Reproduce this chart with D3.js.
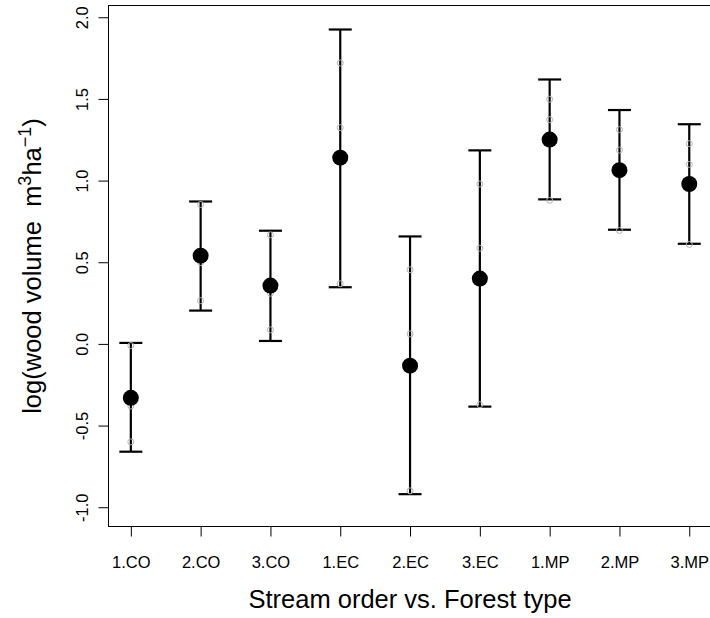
<!DOCTYPE html>
<html>
<head>
<meta charset="utf-8">
<script src="https://cdn.jsdelivr.net/npm/d3@7"></script>
<style>
  body { margin: 0; background: #fff; }
  svg { display: block; font-family: "Liberation Sans", Arial, sans-serif; }
</style>
</head>
<body>
<div id="chart"></div>
<script>
// group labels (stream order . forest type)
const categories = ["1.CO", "2.CO", "3.CO", "1.EC", "2.EC", "3.EC", "1.MP", "2.MP", "3.MP"];
// group means and error bar ends
const means = [-0.33, 0.54, 0.357, 1.14, -0.133, 0.40, 1.251, 1.064, 0.979];
const upper = [0.006, 0.872, 0.693, 1.925, 0.658, 1.185, 1.619, 1.432, 1.345];
const lower = [-0.66, 0.204, 0.018, 0.347, -0.92, -0.384, 0.885, 0.699, 0.613];
// the three raw observations per group (grey open circles)
const obsHigh = [-0.01, 0.854, 0.668, 1.72, 0.454, 0.979, 1.498, 1.312, 1.226];
const obsMid = [-0.38, 0.498, 0.31, 1.324, 0.061, 0.586, 1.373, 1.187, 1.099];
const obsLow = [-0.60, 0.265, 0.086, 0.368, -0.90, -0.372, 0.879, 0.695, 0.609];
const yTicks = [-1.0, -0.5, 0.0, 0.5, 1.0, 1.5, 2.0];

const width = 710, height = 618;
// plot region (right edge falls just outside the picture)
const plotL = 108.5, plotR = 711.6, plotT = 5.5, plotB = 526.5;

const svg = d3.select("#chart").append("svg")
    .attr("width", width)
    .attr("height", height);

const x = d3.scalePoint()
    .domain(categories)
    .range([plotL, plotR])
    .padding(0.32);

const y = d3.scaleLinear()
    .domain([-1.118, 2.072])
    .range([plotB, plotT]);

// box
svg.append("rect")
    .attr("x", plotL)
    .attr("y", plotT)
    .attr("width", plotR - plotL)
    .attr("height", plotB - plotT)
    .attr("fill", "none")
    .attr("stroke", "#000")
    .attr("stroke-width", 1);

// y axis, labels turned like R does
const yAxis = svg.append("g")
    .attr("transform", `translate(${plotL},0)`)
    .call(d3.axisLeft(y).tickValues(yTicks).tickSize(10));
yAxis.select(".domain").remove();
yAxis.selectAll("line").attr("stroke", "#000");
yAxis.selectAll("text")
    .attr("transform", "rotate(-90)")
    .attr("x", 0)
    .attr("y", -21)
    .attr("dy", null)
    .attr("text-anchor", "middle")
    .attr("font-size", 16.5)
    .attr("font-family", null)
    .attr("fill", "#000")
    .text(d => d3.format(".1f")(d).replace("\u2212", "-"));

// x axis
const xAxis = svg.append("g")
    .attr("transform", `translate(0,${plotB})`)
    .call(d3.axisBottom(x).tickSize(10));
xAxis.select(".domain").remove();
xAxis.selectAll("line").attr("stroke", "#000");
xAxis.selectAll("text")
    .attr("y", 41)
    .attr("dy", null)
    .attr("font-size", 16.5)
    .attr("font-family", null)
    .attr("fill", "#000");

// axis titles
svg.append("text")
    .attr("x", (plotL + plotR) / 2)
    .attr("y", 608)
    .attr("text-anchor", "middle")
    .attr("font-size", 25.5)
    .text("Stream order vs. Forest type");

const ylab = svg.append("text")
    .attr("transform", `translate(41,${(plotT + plotB) / 2}) rotate(-90)`)
    .attr("text-anchor", "middle")
    .attr("font-size", 25.5)
    .style("white-space", "pre");
ylab.append("tspan").text("log(wood volume  m");
ylab.append("tspan").attr("font-size", 18).attr("dy", -10).text("3");
ylab.append("tspan").attr("dy", 10).text("ha");
ylab.append("tspan").attr("font-size", 18).attr("dy", -10).text("\u22121");
ylab.append("tspan").attr("dy", 10).text(")");

// error bars
const idx = d3.range(categories.length);
const bars = svg.append("g")
    .attr("stroke", "#000")
    .attr("stroke-width", 2.2);
bars.selectAll("line.stem").data(idx).enter().append("line")
    .attr("class", "stem")
    .attr("x1", i => x(categories[i]))
    .attr("x2", i => x(categories[i]))
    .attr("y1", i => y(lower[i]))
    .attr("y2", i => y(upper[i]));
bars.selectAll("line.cap-hi").data(idx).enter().append("line")
    .attr("class", "cap-hi")
    .attr("x1", i => x(categories[i]) - 11.5)
    .attr("x2", i => x(categories[i]) + 11.5)
    .attr("y1", i => y(upper[i]))
    .attr("y2", i => y(upper[i]));
bars.selectAll("line.cap-lo").data(idx).enter().append("line")
    .attr("class", "cap-lo")
    .attr("x1", i => x(categories[i]) - 11.5)
    .attr("x2", i => x(categories[i]) + 11.5)
    .attr("y1", i => y(lower[i]))
    .attr("y2", i => y(lower[i]));

// raw observations
const obs = [];
[obsHigh, obsMid, obsLow].forEach(arr => {
    arr.forEach((v, i) => obs.push({ cat: categories[i], v: v }));
});
svg.append("g").selectAll("circle").data(obs).enter().append("circle")
    .attr("cx", d => x(d.cat))
    .attr("cy", d => y(d.v))
    .attr("r", 3)
    .attr("fill", "none")
    .attr("stroke", "#b4b4b4")
    .attr("stroke-width", 1);

// group means
svg.append("g").selectAll("circle").data(idx).enter().append("circle")
    .attr("cx", i => x(categories[i]))
    .attr("cy", i => y(means[i]))
    .attr("r", 8)
    .attr("fill", "#000");
</script>
</body>
</html>
